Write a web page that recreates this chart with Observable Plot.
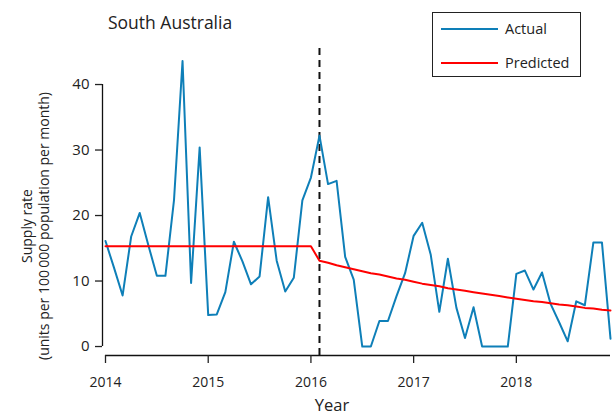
<!DOCTYPE html>
<html>
<head>
<meta charset="utf-8">
<script src="https://cdn.jsdelivr.net/npm/d3@7"></script>
<script src="https://cdn.jsdelivr.net/npm/@observablehq/plot@0.6"></script>
<style>
  html, body { margin: 0; padding: 0; background: #fff; }
  #wrap { position: relative; width: 612px; height: 416px; font-family: "Open Sans", Lato, sans-serif; color: #222; }
  #title { position: absolute; left: 108px; top: 11px; font-size: 17.5px; line-height: 22px; white-space: nowrap; }
  #legend { position: absolute; left: 432px; top: 12px; width: 147px; height: 63px; border: 1px solid #222; background: #fff; }
  .item { position: absolute; left: 8px; height: 20px; width: 140px; }
  .item .sw { position: absolute; left: 0; top: 9px; width: 57px; height: 2px; }
  .item .lb { position: absolute; left: 64px; top: 0; font-size: 14.5px; line-height: 20px; white-space: nowrap; }
</style>
</head>
<body>
<div id="wrap">
  <div id="chart"></div>
  <div id="title"></div>
  <div id="legend"></div>
</div>
<script>
// ---- data ----
const title = "South Australia";
const years = [2014, 2015, 2016, 2017, 2018];
const monthNumbers = [1, 2, 3, 4, 5, 6, 7, 8, 9, 10, 11, 12];
const seriesNames = ["Actual", "Predicted"];
const seriesColors = ["#0e7fb8", "#ff0000"];
const interventionMonth = "2016-02";
const yTicks = [0, 10, 20, 30, 40];
const xLabel = "Year";
const yLabel = "Supply rate\n(units per 100\u2009000 population per month)";

const actual = [
  16.1, 12.0, 7.8, 16.8, 20.4, 15.5, 10.8, 10.8, 22.3, 43.6, 9.7, 30.4,
  4.8, 4.9, 8.3, 16.0, 13.0, 9.5, 10.7, 22.8, 13.1, 8.4, 10.5, 22.3,
  25.8, 32.2, 24.8, 25.3, 13.7, 10.2, 0.0, 0.0, 3.9, 3.9, 7.7, 11.2,
  16.9, 18.9, 14.0, 5.3, 13.4, 5.9, 1.3, 6.0, 0.0, 0.0, 0.0, 0.0,
  11.1, 11.6, 8.7, 11.3, 6.5, 3.7, 0.8, 6.9, 6.3, 15.9, 15.9, 1.2
];
const predicted = [
  15.3, 15.3, 15.3, 15.3, 15.3, 15.3, 15.3, 15.3, 15.3, 15.3, 15.3, 15.3,
  15.3, 15.3, 15.3, 15.3, 15.3, 15.3, 15.3, 15.3, 15.3, 15.3, 15.3, 15.3,
  15.3, 13.1, 12.8, 12.4, 12.1, 11.8, 11.5, 11.2, 11.0, 10.7, 10.4, 10.2,
  9.9, 9.6, 9.4, 9.2, 8.9, 8.7, 8.5, 8.3, 8.1, 7.9, 7.7, 7.5,
  7.3, 7.1, 6.9, 6.8, 6.6, 6.4, 6.3, 6.1, 5.9, 5.8, 5.6, 5.5
];

// ---- build table ----
const months = [];
years.forEach(y => monthNumbers.forEach(m => months.push({year: y, month: m})));
const toX = (y, m) => y + (m - 1) / 12;
const rows = months.map((d, i) => ({t: toX(d.year, d.month), actual: actual[i], predicted: predicted[i]}));
const [iy, im] = interventionMonth.split("-").map(Number);
const xMin = rows[0].t, xMax = rows[rows.length - 1].t;

const chart = Plot.plot({
  width: 612,
  height: 416,
  marginLeft: 105,
  marginRight: 2,
  marginTop: 48,
  marginBottom: 61,
  style: {fontFamily: "'Open Sans', Lato, sans-serif", color: "#222", background: "#fff"},
  x: {type: "linear", domain: [xMin, xMax]},
  y: {domain: [-1.37, 45.5]},
  marks: [
    Plot.ruleX([toX(iy, im)], {stroke: "#111", strokeWidth: 2, strokeDasharray: "7,5"}),
    Plot.line(rows, {x: "t", y: "actual", stroke: seriesColors[0], strokeWidth: 2}),
    Plot.line(rows, {x: "t", y: "predicted", stroke: seriesColors[1], strokeWidth: 2}),
    Plot.ruleX([xMin], {y1: yTicks[0], y2: yTicks[yTicks.length - 1], dx: -3, stroke: "#111", strokeWidth: 1.3}),
    Plot.ruleY([-1.37], {x1: xMin, x2: xMax, stroke: "#111", strokeWidth: 1.3}),
    Plot.axisY({ticks: yTicks, tickSize: 7, tickPadding: 6, fontSize: 15, label: null, dx: -3, strokeWidth: 1.3}),
    Plot.axisX({ticks: years, tickFormat: d => String(d), tickSize: 8, tickPadding: 14, fontSize: 14, label: null, strokeWidth: 1.3}),
    Plot.text([xLabel], {frameAnchor: "bottom", dx: -26, dy: 55, fontSize: 16.5, fill: "#222"}),
    Plot.text([yLabel], {frameAnchor: "left", textAnchor: "middle", rotate: -90, dx: -70, dy: 24, fontSize: 14, lineHeight: 1.2, fill: "#222"})
  ]
});
document.getElementById("chart").appendChild(chart);

document.getElementById("title").textContent = title;
const legend = document.getElementById("legend");
seriesNames.forEach((name, i) => {
  const it = document.createElement("div");
  it.className = "item";
  it.style.top = (6 + i * 33.5) + "px";
  it.innerHTML = `<div class="sw" style="background:${seriesColors[i]}"></div><div class="lb">${name}</div>`;
  legend.appendChild(it);
});
</script>
</body>
</html>
